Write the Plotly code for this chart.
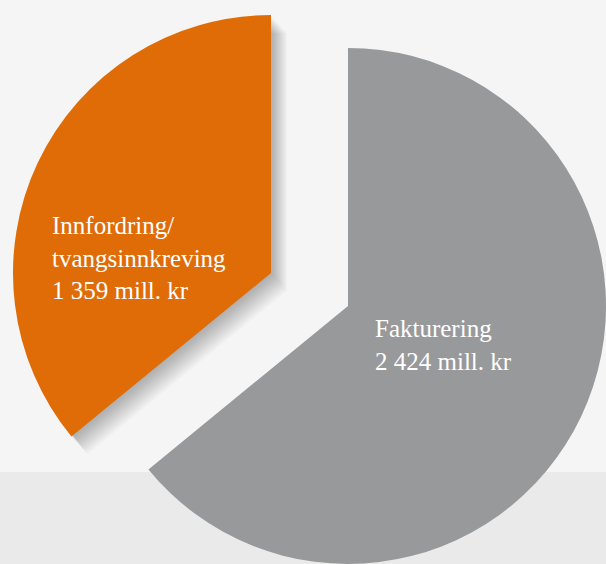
import plotly.graph_objects as go

# ---- data ----
labels = ["Fakturering", "Innfordring/<br>tvangsinnkreving"]
values = [2424, 1359]
value_texts = ["2 424 mill. kr", "1 359 mill. kr"]
colors = ["#98999b", "#e06c08"]

W, H = 606, 564
TRANSPARENT = "rgba(0,0,0,0)"


def dom(cx, cy, r):
    return dict(x=[max(0, (cx - r) / W), min(1, (cx + r) / W)],
                y=[max(0, 1 - (cy + r) / H), min(1, 1 - (cy - r) / H)])


def pie(idx, color, cx, cy, r):
    cols = [TRANSPARENT] * len(values)
    cols[idx] = color
    return go.Pie(
        labels=labels, values=values, sort=False, direction="clockwise",
        rotation=0, marker=dict(colors=cols, line=dict(width=0)),
        textinfo="none", hoverinfo="skip", showlegend=False,
        domain=dom(cx, cy, r),
    )


fig = go.Figure()

# soft shadow for the orange slice
for d in range(18, 0, -1):
    fig.add_trace(pie(1, "rgba(0,0,0,0.016)", 271 + d * 0.9, 273 + d, 258))

# main slices (exploded)
fig.add_trace(pie(0, colors[0], 348, 306, 258))
fig.add_trace(pie(1, colors[1], 271, 273, 258))

annos = [
    dict(text=f"{labels[1]}<br>{value_texts[1]}", x=50 / W, y=1 - 210 / H),
    dict(text=f"{labels[0]}<br>{value_texts[0]}", x=373 / W, y=1 - 313 / H),
]
for a in annos:
    fig.add_annotation(
        xref="paper", yref="paper", x=a["x"], y=a["y"], text=a["text"],
        showarrow=False, xanchor="left", yanchor="top", align="left",
        font=dict(family="Liberation Serif", size=25, color="#ffffff"),
    )

fig.add_shape(type="rect", xref="paper", yref="paper", x0=0, x1=1, y0=0,
              y1=1 - 472 / H, fillcolor="#eaeaea", line=dict(width=0),
              layer="below")

fig.update_layout(
    width=W, height=H, margin=dict(l=0, r=0, t=0, b=0),
    paper_bgcolor="#f5f5f5", plot_bgcolor="#f5f5f5",
)

fig.write_html("out.html")
